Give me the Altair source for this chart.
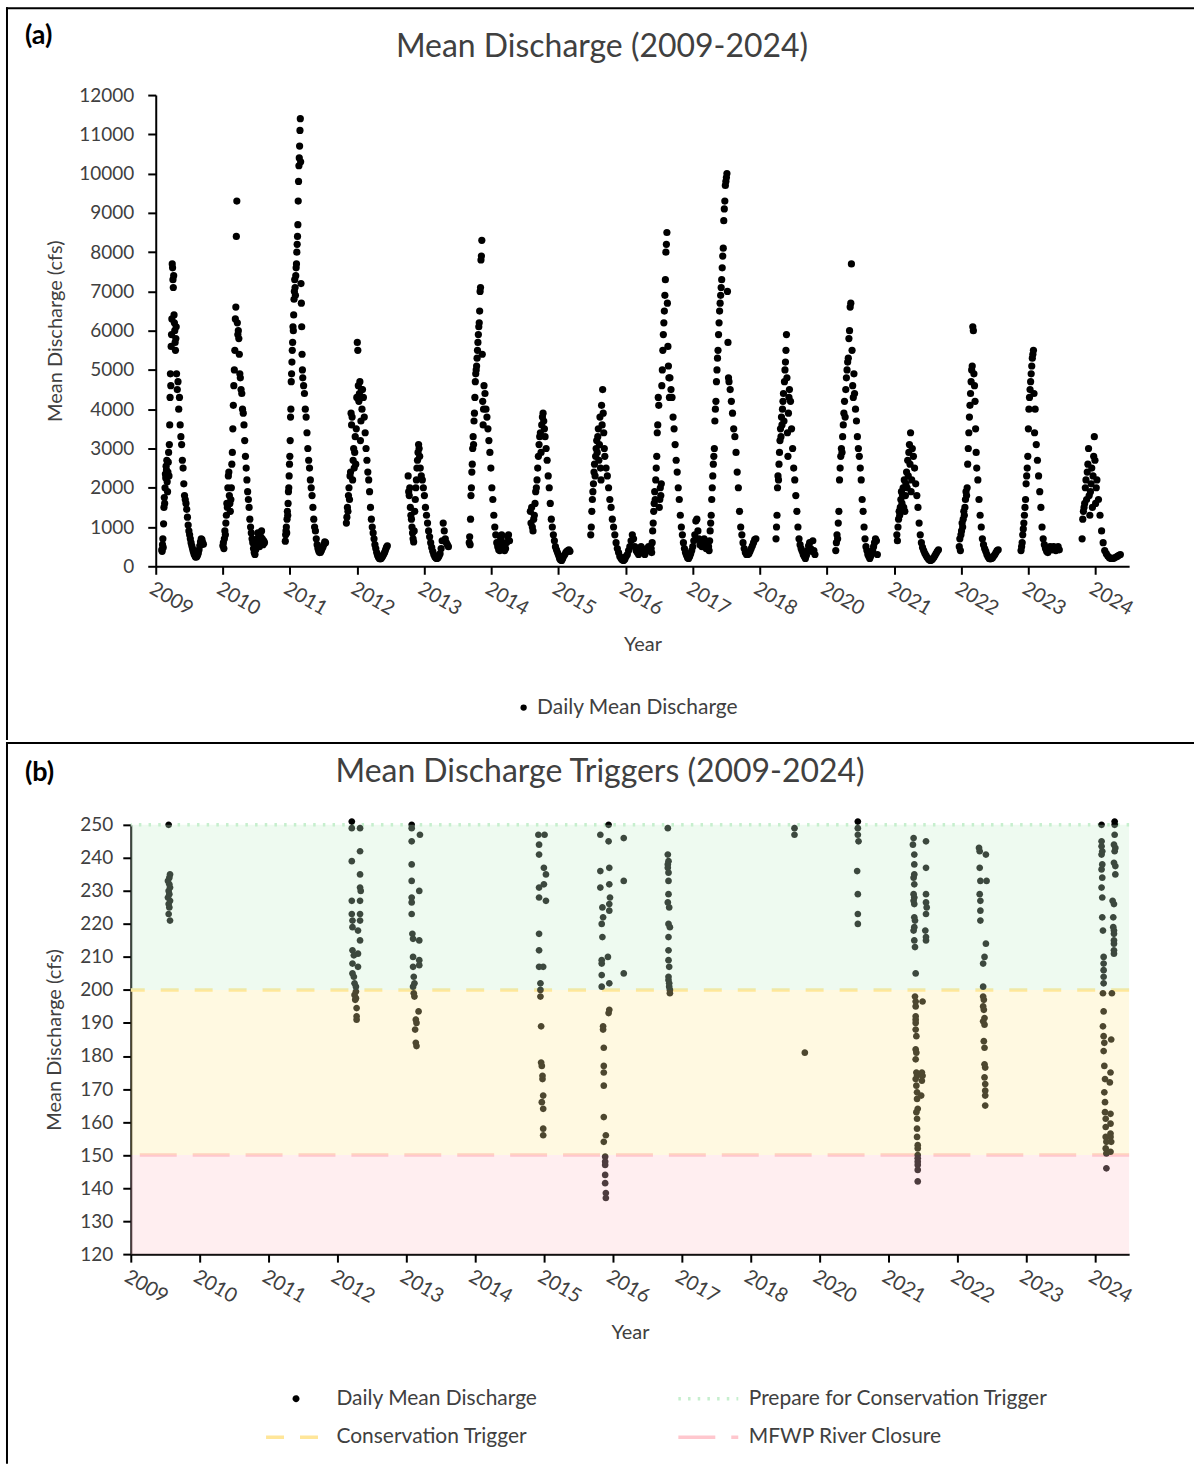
import json
import altair as alt
import numpy as np
import pandas as pd

FONT = "Lato"
TEXT_COLOR = "#404040"

YEAR_LABELS = ["2009", "2010", "2011", "2012", "2013", "2014", "2015", "2016",
               "2017", "2018", "2020", "2021", "2022", "2023", "2024"]
PANEL_TAGS = ["(a)", "(b)"]
PANEL_TITLES = ["Mean Discharge (2009-2024)", "Mean Discharge Triggers (2009-2024)"]

# ---------------- Panel (a): daily mean discharge, one run per season ----------------
# season start / peak / end on the year axis (axis units: one unit per labelled tick)
SEASON_START = [0.09, 1.00, 1.93, 2.84, 3.76, 4.67, 5.58, 6.48, 7.38, 8.22, 9.24, 10.13, 11.04, 11.97, 12.89, 13.80]
SEASON_PEAK = [0.31, 1.26, 2.19, 3.08, 3.94, 4.89, 5.80, 6.69, 7.66, 8.54, 9.44, 10.41, 11.27, 12.23, 13.10, 14.02]
SEASON_END = [0.71, 1.62, 2.53, 3.45, 4.36, 5.27, 6.17, 7.36, 8.20, 8.94, 9.82, 10.75, 11.66, 12.55, 13.46, 14.37]

RISE_2009 = [420, 380, 550, 700, 480, 1080, 1500, 1750, 1600, 2000, 2350, 2250, 2550, 2450, 2700, 2150, 1900, 2400, 2650, 2900, 2300, 3100, 3600, 4300, 4900, 4600, 5600, 5900, 6300, 7700, 7600, 7300, 7100, 7400, 6400, 6200, 6000, 5700, 5500, 5800, 6100]
FALL_2009 = [4900, 4500, 4700, 4000, 4300, 3600, 3300, 3100, 2700, 2500, 2100, 1800, 1700, 1600, 1450, 1250, 1050, 900, 800, 700, 600, 520, 450, 380, 320, 280, 240, 230, 250, 290, 340, 420, 520, 620, 700, 680, 600, 560]
RISE_2010 = [520, 600, 450, 700, 900, 800, 1100, 1300, 1600, 1500, 2000, 2300, 2400, 1800, 1600, 1400, 1700, 2000, 2600, 2900, 3500, 4100, 4600, 5000, 5500, 6300, 6600, 8400, 9300, 6200, 5900, 6000, 5800, 5400, 4900]
FALL_2010 = [4800, 4500, 4400, 4000, 3900, 3600, 3200, 2800, 2500, 2200, 1900, 1700, 1500, 1200, 1000, 850, 700, 600, 450, 350, 300, 420, 550, 700, 850, 650, 500, 600, 750, 900, 700, 550, 650, 600]
RISE_2011 = [640, 800, 900, 1000, 850, 1200, 1400, 1300, 1600, 1900, 2000, 2300, 2600, 2800, 3200, 3800, 4000, 4700, 4900, 5200, 5500, 5700, 6100, 6000, 6400, 6800, 7000, 7300, 7100, 6900, 7400, 7600, 7700, 8000, 8200, 8400, 8700, 9300, 9800, 10200, 10400, 10700, 11100, 11400, 10300, 7200, 6700, 6100, 5400, 5000]
FALL_2011 = [4800, 4600, 4400, 4000, 3800, 3400, 3000, 2700, 2500, 2200, 2000, 1800, 1500, 1200, 1000, 900, 700, 550, 450, 380, 350, 360, 400, 450, 500, 560, 620, 600]
RISE_2012 = [1100, 1250, 1500, 1400, 1800, 2000, 1700, 2300, 2400, 3900, 3600, 3800, 2200, 2700, 3000, 2500, 2900, 3300, 2600, 3500, 4300, 5700, 5500, 4600, 4200, 4400, 4700, 3200, 3700, 4500, 4000]
FALL_2012 = [4500, 4300, 3800, 3400, 3000, 2700, 2400, 2200, 1900, 1500, 1200, 1000, 850, 700, 550, 450, 350, 280, 230, 200, 190, 200, 230, 270, 310, 360, 420, 480, 520]
RISE_2013 = [2300, 1900, 1800, 2000, 1500, 1300, 1200, 1000, 850, 700, 620, 900, 1400, 1700, 2000, 2200, 2500, 2700, 2900, 3100, 3000, 2800]
FALL_2013 = [2500, 2300, 2200, 2000, 1800, 1500, 1300, 1100, 900, 750, 600, 480, 380, 300, 240, 210, 200, 220, 260, 320, 450, 650, 1100, 900, 700, 600, 550, 500]
RISE_2014 = [600, 750, 550, 1200, 1800, 2000, 2400, 2600, 3000, 3300, 3100, 3700, 3900, 4300, 4700, 4900, 5000, 5100, 5300, 5500, 5700, 5900, 6100, 6200, 6500, 7000, 7100, 7800, 7900, 8300, 5400, 4200, 3600, 4000]
FALL_2014 = [4600, 4400, 4000, 3800, 3500, 3200, 2900, 2500, 2000, 1700, 1300, 1000, 800, 600, 500, 420, 400, 700, 800, 600, 450, 400, 450, 600, 750, 800, 650]
RISE_2015 = [1400, 1100, 1500, 1000, 900, 1200, 1300, 1600, 1900, 2000, 2200, 2500, 2800, 3100, 3300, 3400, 2900, 3600, 3800, 3900, 3700, 3500]
FALL_2015 = [3300, 3000, 2700, 2300, 2000, 1600, 1200, 1000, 800, 650, 500, 420, 350, 280, 200, 160, 150, 200, 260, 300, 350, 380, 400, 420, 380]
RISE_2016A = [800, 1000, 1400, 1700, 1900, 2100, 2400, 2600, 2300, 2800, 3000, 3200, 2900, 3300, 3500, 2700, 3100, 3800, 2500, 2200, 4100, 3600, 4500, 3900, 3400, 3000]
FALL_2016A = [2800, 2500, 2300, 2000, 1700, 1500, 1200, 1000, 800, 600, 450, 350, 250, 200, 160, 150, 180, 250, 300, 400, 500, 650, 800, 700, 500, 400, 350, 300, 400, 500, 450, 350, 300, 380, 450, 500, 400]
RISE_2016B = [450, 350, 600, 900, 1100, 1400, 1600, 1900, 1700, 2200, 2500, 2800, 3400, 3600, 4300, 4100, 1500, 1700, 2000, 1800, 2100, 4600, 5000, 5500, 5900, 6200, 6500, 6900, 7300, 8000, 8200, 8500, 6700, 5600, 5100, 4800, 4300]
FALL_2016B = [4800, 4500, 4300, 3800, 3500, 3100, 2700, 2400, 2000, 1700, 1300, 1000, 800, 600, 450, 350, 280, 220, 200, 250, 320, 400, 500, 650, 800, 1150, 1200, 900, 700, 550, 600, 500, 650, 700, 500, 450]
RISE_2017 = [450, 600, 500, 400, 650, 900, 1100, 1300, 1700, 2000, 2300, 2600, 2800, 3000, 3700, 4000, 4200, 4700, 5000, 5300, 5500, 5900, 6200, 6500, 6700, 6900, 7100, 7300, 7600, 7900, 8100, 8800, 9100, 9300, 9700, 9800, 9900, 10000, 7000, 5700, 4800]
FALL_2017 = [4700, 4500, 4200, 3900, 3500, 3300, 2900, 2400, 2000, 1400, 1000, 800, 600, 450, 350, 300, 300, 320, 380, 450, 520, 600, 680, 700]
RISE_2018 = [700, 1000, 1300, 2000, 2300, 2200, 2600, 2900, 3200, 3500, 3300, 3800, 3600, 4000, 4200, 4400, 3700, 4700, 5000, 5200, 5500, 5900, 4800, 3400, 2800, 3900, 4300]
FALL_2018 = [4500, 4200, 3500, 3000, 2500, 2200, 1800, 1400, 1000, 700, 550, 450, 380, 300, 250, 200, 280, 400, 520, 600, 450, 380, 650, 400, 300]
RISE_2020 = [400, 600, 800, 700, 1100, 1400, 2200, 2500, 2800, 3000, 2900, 3300, 3600, 3900, 4200, 3800, 4500, 4800, 5000, 5200, 5300, 5800, 6000, 6600, 6700, 7700, 5500, 4600, 4300, 4900]
FALL_2020 = [4400, 4000, 3700, 3300, 3000, 2800, 2500, 2200, 1700, 1400, 1000, 700, 500, 400, 300, 250, 200, 260, 320, 400, 500, 600, 700, 650, 300]
RISE_2021 = [800, 650, 1000, 1200, 1400, 1300, 1500, 1700, 1900, 1600, 1800, 2000, 1500, 2200, 1400, 1800, 2100, 2400, 2000, 2700, 2300, 2900, 3100, 2600, 3400, 1900, 2200]
FALL_2021 = [3000, 2800, 2500, 2100, 1800, 1500, 1100, 800, 600, 480, 400, 330, 280, 230, 190, 160, 150, 160, 190, 230, 280, 330, 380, 420]
RISE_2022 = [500, 700, 400, 800, 900, 1100, 1000, 1200, 1400, 1300, 1500, 1700, 1900, 1800, 2000, 2600, 3000, 3400, 3800, 4100, 4400, 4700, 5000, 5100, 6100, 6000, 4900, 4600, 4200, 3500, 2900]
FALL_2022 = [2500, 2200, 1700, 1300, 1000, 700, 550, 450, 380, 300, 240, 200, 190, 200, 220, 260, 300, 350, 400, 420]
RISE_2023 = [400, 500, 600, 800, 950, 1100, 1300, 1500, 1700, 2100, 2300, 2500, 2800, 3500, 4000, 4300, 4500, 4700, 4900, 5100, 5300, 5400, 5500, 4400, 3400]
FALL_2023 = [4000, 3100, 2700, 2300, 1900, 1500, 1000, 700, 550, 450, 380, 350, 400, 500, 450, 420, 500, 480, 400, 450, 500, 420]
RISE_2024 = [700, 1200, 1400, 1500, 1600, 2000, 2200, 1700, 2400, 2600, 3000, 1800, 1300, 1900, 2100, 2500, 1500, 2300, 2800, 3300, 2700, 1600, 2000]
FALL_2024 = [2200, 1700, 1300, 900, 600, 400, 320, 260, 220, 200, 200, 210, 230, 250, 280, 300]

SEASON_RISES = [RISE_2009, RISE_2010, RISE_2011, RISE_2012, RISE_2013, RISE_2014, RISE_2015, RISE_2016A,
                RISE_2016B, RISE_2017, RISE_2018, RISE_2020, RISE_2021, RISE_2022, RISE_2023, RISE_2024]
SEASON_FALLS = [FALL_2009, FALL_2010, FALL_2011, FALL_2012, FALL_2013, FALL_2014, FALL_2015, FALL_2016A,
                FALL_2016B, FALL_2017, FALL_2018, FALL_2020, FALL_2021, FALL_2022, FALL_2023, FALL_2024]

# ---------------- Panel (b): days at or below 250 cfs ----------------
LOW_2009_T = [0.55, 0.57, 0.56, 0.54, 0.56, 0.57, 0.55, 0.56, 0.54, 0.57, 0.55, 0.56, 0.55, 0.57]
LOW_2009_Q = [250, 235, 234, 233, 232, 231, 230, 229, 228, 227, 226, 225, 223, 221]
LOW_2012_T = [3.21, 3.21, 3.33, 3.33, 3.21, 3.33, 3.33, 3.34, 3.21, 3.33, 3.21, 3.33, 3.22, 3.33, 3.22, 3.30, 3.33,
              3.22, 3.30, 3.24, 3.22, 3.30, 3.22, 3.24, 3.25, 3.27, 3.27, 3.25, 3.27, 3.26, 3.28, 3.28, 3.28]
LOW_2012_Q = [251, 249, 249, 242, 239, 235, 231, 230, 227, 227, 223, 223, 221, 221, 219, 218, 215,
              212, 211, 210.5, 208, 207, 205, 204, 202, 201, 199.5, 198.5, 197.5, 197, 194.5, 192, 191]
LOW_2013_T = [4.08, 4.08, 4.20, 4.08, 4.08, 4.08, 4.19, 4.08, 4.08, 4.08, 4.09, 4.19, 4.10, 4.10,
              4.19, 4.10, 4.19, 4.11, 4.12, 4.10, 4.11, 4.12, 4.18, 4.14, 4.15, 4.13, 4.14, 4.15]
LOW_2013_Q = [250, 249, 247, 245, 238, 233, 230, 228, 226.5, 223, 217, 215, 215.5, 210,
              209, 207, 207.5, 204, 202, 201, 199, 198, 193.5, 191, 190, 188, 184, 183]
LOW_2015_T = [5.92, 6.01, 5.93, 5.93, 6.00, 6.03, 6.00, 5.93, 5.93, 6.03, 5.93, 5.93, 5.93, 5.99,
              5.95, 5.95, 5.95, 5.96, 5.96, 5.97, 5.98, 5.98, 5.99, 5.97, 5.99, 5.99, 5.99]
LOW_2015_Q = [247, 247, 244, 241, 237, 235, 232, 231, 228, 227, 217, 212, 207, 207,
              202, 200, 198, 189, 178, 177, 174, 173, 168, 166, 164, 158, 156]
LOW_2016_T = [6.94, 6.82, 7.16, 6.94, 6.95, 6.82, 7.16, 6.95, 6.82, 6.96, 6.95, 6.85, 6.95, 6.86, 6.84,
              6.85, 6.93, 6.84, 6.84, 7.16, 6.84, 6.95, 6.84, 6.95, 6.94, 6.86, 6.86, 6.87, 6.87, 6.87,
              6.87, 6.87, 6.90, 6.87, 6.89, 6.89, 6.89, 6.89, 6.89, 6.90, 6.90]
LOW_2016_Q = [250, 247, 246, 245, 237, 236, 233, 232, 231, 228, 226, 225, 224, 222, 220,
              216, 210, 209, 208, 205, 204.5, 202, 201, 194, 193, 189, 188, 182.5, 177, 175,
              171, 161.5, 156, 154, 149.5, 148, 147, 144, 141.5, 138.5, 137]
LOW_2017_T = [7.80, 7.80, 7.81, 7.80, 7.80, 7.81, 7.81, 7.81, 7.80, 7.82, 7.81, 7.83, 7.81, 7.81,
              7.81, 7.82, 7.81, 7.81, 7.82, 7.82, 7.83, 7.83]
LOW_2017_Q = [249, 241, 239, 238, 237, 235.5, 233, 229, 226.5, 225, 220, 219, 216, 212,
              209, 207, 204, 203, 202, 201, 200, 199]
LOW_2018_T = [9.64, 9.64, 9.79]
LOW_2018_Q = [249, 247, 181]
LOW_2020_T = [10.56, 10.56, 10.56, 10.57, 10.55, 10.56, 10.56, 10.56]
LOW_2020_Q = [251, 249, 247, 245, 236, 229, 223, 220]
LOW_2021_T = [11.37, 11.36, 11.38, 11.38, 11.38, 11.37, 11.38, 11.37, 11.38, 11.37,
              11.38, 11.38, 11.39, 11.38, 11.37, 11.38, 11.39, 11.40, 11.39, 11.40,
              11.40, 11.40, 11.40, 11.40, 11.40, 11.41, 11.40, 11.41, 11.40, 11.41,
              11.42, 11.40, 11.41, 11.42, 11.42, 11.43, 11.41, 11.42, 11.42, 11.42,
              11.43, 11.43, 11.43, 11.43, 11.43, 11.43, 11.43, 11.43,
              11.55, 11.55, 11.55, 11.55, 11.56, 11.55, 11.54, 11.55, 11.55, 11.50, 11.49, 11.50, 11.49, 11.48]
LOW_2021_Q = [246, 244, 241, 238, 235, 234, 232, 229, 228, 227,
              226, 222, 221, 219, 218, 215, 213, 205, 198, 196.5,
              195, 192, 191, 190, 188, 186, 182, 181, 179, 175,
              174, 173, 171, 169, 167, 164, 163, 161, 158, 155.5,
              153, 152, 150, 149, 148, 147, 145.5, 142,
              245, 237, 229, 226.5, 225, 223, 218, 216, 215, 196.5, 175, 174, 172.5, 168]
LOW_2022_T = [12.32, 12.33, 12.42, 12.33, 12.34, 12.43, 12.33, 12.34, 12.34, 12.34,
              12.42, 12.40, 12.38, 12.38, 12.38, 12.39, 12.38, 12.39, 12.40, 12.38,
              12.40, 12.39, 12.40, 12.40, 12.41, 12.40, 12.41, 12.41, 12.41, 12.41]
LOW_2022_Q = [243, 242, 241, 237, 233, 233, 229, 227, 224, 221,
              214, 210, 208, 201, 198, 197, 195, 194, 191.5, 190.5,
              189.5, 184.5, 182.5, 177.5, 176.5, 173.5, 171.5, 169.5, 168, 165]
LOW_2024_T = [14.10, 14.10, 14.10, 14.11, 14.10, 14.11, 14.10, 14.11, 14.10, 14.11,
              14.11, 14.12, 14.13, 14.13, 14.13, 14.13, 14.13, 14.12, 14.13, 14.12,
              14.13, 14.14, 14.13, 14.14, 14.15, 14.14, 14.15, 14.15, 14.16, 14.16,
              14.16, 14.17, 14.16, 14.17, 14.17,
              14.29, 14.29, 14.29, 14.28, 14.30, 14.29, 14.28, 14.30, 14.30, 14.26,
              14.28, 14.27, 14.27, 14.28, 14.28, 14.28, 14.28, 14.28, 14.28, 14.25,
              14.24, 14.23, 14.22, 14.23, 14.23, 14.23, 14.23, 14.24, 14.23]
LOW_2024_Q = [250, 245, 243.5, 242, 241, 238, 236.5, 234, 231, 228,
              222, 218, 210, 208, 206, 204, 202, 199, 193.5, 189,
              186, 184, 181.5, 177, 173, 169, 166, 163, 161, 158.5,
              155.5, 154, 152, 150.5, 146,
              251, 250, 247, 244, 243, 242, 238.5, 237.5, 235, 227,
              226, 222, 219, 218, 217, 215, 214, 212, 211, 199,
              185, 175, 172, 162.5, 159.5, 156.5, 155.5, 154, 151]

LOW_T = [LOW_2009_T, LOW_2012_T, LOW_2013_T, LOW_2015_T, LOW_2016_T, LOW_2017_T,
         LOW_2018_T, LOW_2020_T, LOW_2021_T, LOW_2022_T, LOW_2024_T]
LOW_Q = [LOW_2009_Q, LOW_2012_Q, LOW_2013_Q, LOW_2015_Q, LOW_2016_Q, LOW_2017_Q,
         LOW_2018_Q, LOW_2020_Q, LOW_2021_Q, LOW_2022_Q, LOW_2024_Q]

THRESHOLD_VALUES = [250, 200, 150]
THRESHOLD_NAMES = ["Prepare for Conservation Trigger", "Conservation Trigger", "MFWP River Closure"]
BAND_LOW = [200, 150, 120]
BAND_HIGH = [250, 200, 150]
BAND_NAMES = ["prepare", "conservation", "closure"]
BAND_COLORS = ["#C6EFCE", "#FFEB9C", "#FFC7CE"]

# legend entries are laid out column by column (2 columns)
SERIES_B = ["Daily Mean Discharge", "Conservation Trigger",
            "Prepare for Conservation Trigger", "MFWP River Closure"]
SERIES_B_COLORS = ["#000000", "#FFE699", "#C6EFCE", "#FFC7CE"]
SERIES_B_DASH = [[1, 0], [18, 16], [2.5, 7.2], [37, 16]]
DOT_PATH = "M-0.35,0A0.35,0.35,0,1,1,0.35,0A0.35,0.35,0,1,1,-0.35,0Z"
LINE_PATH = "M-6,0H6"
SERIES_B_SHAPES = [DOT_PATH, LINE_PATH, LINE_PATH, LINE_PATH]

# ---------------- data frames ----------------
t_a, v_a = [], []
for s, p, e, rise, fall in zip(SEASON_START, SEASON_PEAK, SEASON_END, SEASON_RISES, SEASON_FALLS):
    t_a += list(np.linspace(s, p, len(rise), endpoint=False))
    v_a += rise
    t_a += list(np.linspace(p, e, len(fall)))
    v_a += fall
df_a = pd.DataFrame({"t": t_a, "v": v_a, "series_a": "Daily Mean Discharge"})

t_b, q_b = [], []
for ts, qs in zip(LOW_T, LOW_Q):
    t_b += ts
    q_b += qs
df_b = pd.DataFrame({"t": t_b, "v": q_b, "series_b": "Daily Mean Discharge"})
df_thr = pd.DataFrame({"v": THRESHOLD_VALUES, "series_b": THRESHOLD_NAMES})
df_band = pd.DataFrame({"lo": BAND_LOW, "hi": BAND_HIGH, "zone": BAND_NAMES})
df_one = pd.DataFrame({"k": [0]})

label_expr = json.dumps(YEAR_LABELS) + "[datum.value]"

# both panels share the same plot origin; panel (a) starts its axes 25 px further right
W, SHIFT_A = 1000, 25
H_A, H_B = 472, 430


def x_axis():
    return alt.Axis(title="Year", values=list(range(len(YEAR_LABELS))), labelExpr=label_expr,
                    labelAngle=30, labelAlign="left", labelBaseline="top", labelPadding=4,
                    labelFontSize=20, labelFlush=False, labelOverlap=False, titlePadding=16)


def frame(left, top, bottom, right):
    v = alt.Chart(df_one).mark_rule(color="black", strokeWidth=2).encode(
        x=alt.value(left), y=alt.value(top - 1), y2=alt.value(bottom))
    h = alt.Chart(df_one).mark_rule(color="black", strokeWidth=2).encode(
        x=alt.value(left - 1), x2=alt.value(right), y=alt.value(top))
    return v, h


def tags(tag, title, tag_x, title_x, tag_y, title_y):
    t1 = alt.Chart(df_one).mark_text(font=FONT, fontSize=27, fontWeight="bold", color="black",
                                      align="left", baseline="middle").encode(
        x=alt.value(tag_x), y=alt.value(tag_y), text=alt.value(tag))
    t2 = alt.Chart(df_one).mark_text(font=FONT, fontSize=32, color=TEXT_COLOR,
                                      align="center", baseline="middle").encode(
        x=alt.value(title_x), y=alt.value(title_y), text=alt.value(title))
    return t1, t2


# ---------------- panel (a) ----------------
pts_a = alt.Chart(df_a).mark_point(filled=True, size=52, opacity=1).encode(
    x=alt.X("t:Q", scale=alt.Scale(domain=[0, 14.5], range=[SHIFT_A, W], nice=False, zero=False),
            axis=x_axis()),
    y=alt.Y("v:Q", scale=alt.Scale(domain=[0, 12000], nice=False),
            axis=alt.Axis(title="Mean Discharge (cfs)", values=list(range(0, 12001, 1000)), format="d",
                          offset=-SHIFT_A, labelPadding=14, titlePadding=13)),
    color=alt.Color("series_a:N", scale=alt.Scale(domain=["Daily Mean Discharge"], range=["#000000"]),
                    legend=alt.Legend(title=None, orient="none", legendX=383, legendY=603,
                                      symbolType="circle", symbolSize=40, labelOffset=3, labelLimit=0,
                                      labelFont=FONT, labelFontSize=21, labelColor=TEXT_COLOR)),
)
fa_v, fa_h = frame(-124, -87, 646, 1065)
tag_a, title_a = tags(PANEL_TAGS[0], PANEL_TITLES[0], -106, 472, -59, -48)
panel_a = alt.layer(pts_a, fa_v, fa_h, tag_a, title_a).properties(width=W, height=H_A)

# ---------------- panel (b) ----------------
legend_b = alt.Legend(title=None, orient="none", legendX=155, legendY=564, columns=2,
                      symbolSize=100, symbolStrokeWidth=3.5, labelOffset=30, labelLimit=0,
                      columnPadding=133, rowPadding=17,
                      labelFont=FONT, labelFontSize=21, labelColor=TEXT_COLOR)
color_b = alt.Color("series_b:N", scale=alt.Scale(domain=SERIES_B, range=SERIES_B_COLORS), legend=legend_b)
dash_b = alt.StrokeDash("series_b:N", scale=alt.Scale(domain=SERIES_B, range=SERIES_B_DASH), legend=legend_b)
shape_b = alt.Shape("series_b:N", scale=alt.Scale(domain=SERIES_B, range=SERIES_B_SHAPES), legend=legend_b)
y_scale_b = alt.Scale(domain=[120, 250], nice=False, zero=False)
y_axis_b = alt.Axis(title="Mean Discharge (cfs)", values=list(range(120, 251, 10)),
                    labelPadding=10, titlePadding=15)

rules = alt.Chart(df_thr).mark_rule(strokeWidth=3.5).encode(
    y=alt.Y("v:Q", scale=y_scale_b, axis=y_axis_b),
    color=color_b, strokeDash=dash_b,
)
pts_b = alt.Chart(df_b).mark_point(filled=True, size=370, opacity=1).encode(
    x=alt.X("t:Q", scale=alt.Scale(domain=[0, 14.5], nice=False, zero=False), axis=x_axis()),
    y=alt.Y("v:Q", scale=y_scale_b, axis=y_axis_b),
    color=color_b, shape=shape_b, strokeDash=dash_b,
)
bands = alt.Chart(df_band).mark_rect(opacity=0.3).encode(
    x=alt.value(0), x2=alt.value(W),
    y=alt.Y("lo:Q", scale=y_scale_b, axis=y_axis_b), y2="hi:Q",
    fill=alt.Fill("zone:N", scale=alt.Scale(domain=BAND_NAMES, range=BAND_COLORS), legend=None),
)
fb_v, fb_h = frame(-124, -82, 640, 1065)
tag_b, title_b = tags(PANEL_TAGS[1], PANEL_TITLES[1], -106, 470, -52, -53)
panel_b = alt.layer(rules, pts_b, bands, fb_v, fb_h, tag_b, title_b).properties(width=W, height=H_B)

chart = alt.vconcat(panel_a, panel_b, spacing=0).resolve_scale(
    color="independent", shape="independent", strokeDash="independent", fill="independent",
    x="independent", y="independent"
).properties(
    padding={"left": 5, "top": 5, "right": 0, "bottom": 0}, background="white"
).configure_view(strokeWidth=0).configure_axis(
    grid=False, domainColor="black", domainWidth=2, tickColor="black", tickWidth=2, tickSize=8,
    labelFont=FONT, labelFontSize=19, labelColor=TEXT_COLOR,
    titleFont=FONT, titleFontSize=20, titleFontWeight="normal", titleColor=TEXT_COLOR,
)

chart.save("out.html", embed_options={"renderer": "svg", "actions": False})
